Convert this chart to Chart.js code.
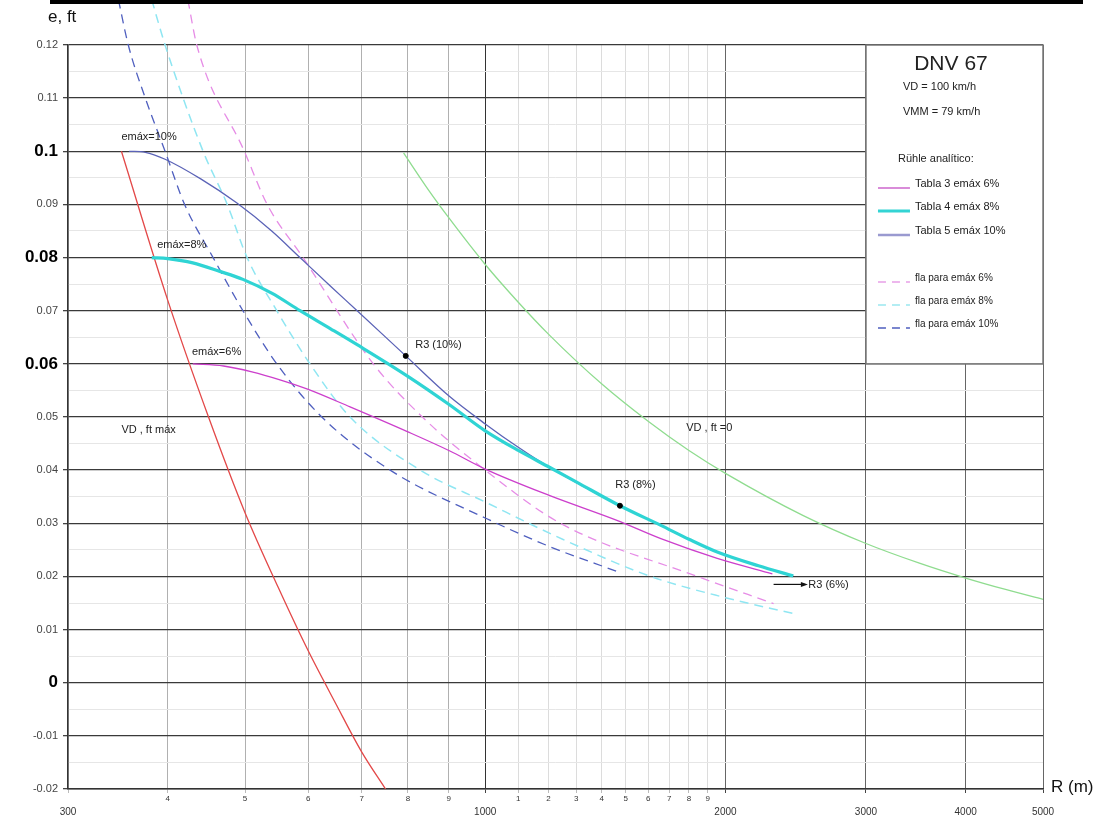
<!DOCTYPE html>
<html>
<head>
<meta charset="utf-8">
<script src="https://cdn.jsdelivr.net/npm/chart.js@4.4.0/dist/chart.umd.min.js"></script>
<style>
  html, body { margin: 0; padding: 0; background: #fff; }
  #wrap { width: 1115px; height: 816px; position: relative; }
</style>
</head>
<body>
<div id="wrap"><canvas id="myChart"></canvas></div>
<script>
// ejes
const xTicks = [300, 400, 500, 600, 700, 800, 900, 1000, 1100, 1200, 1300, 1400, 1500, 1600, 1700, 1800, 1900, 2000, 3000, 4000, 5000];
const xTickLabels = ["300", "4", "5", "6", "7", "8", "9", "1000", "1", "2", "3", "4", "5", "6", "7", "8", "9", "2000", "3000", "4000", "5000"];
const xMajor = [300, 1000, 2000, 3000, 4000, 5000];
const yTickLabels = ["-0.02", "-0.01", "0", "0.01", "0.02", "0.03", "0.04", "0.05", "0.06", "0.07", "0.08", "0.09", "0.1", "0.11", "0.12"];
const yBold = ["0", "0.06", "0.08", "0.1"];

// VD , ft máx
const rRed = [350, 400, 450, 500, 550, 600, 650, 700, 750];
const eRed = [0.100, 0.072, 0.050, 0.032, 0.018, 0.006, -0.004, -0.013, -0.020];
// VD , ft = 0
const rGreen = [790, 850, 900, 1000, 1100, 1200, 1400, 1600, 1800, 2000, 2500, 3000, 3500, 4000, 4500, 5000];
const eGreen = [0.0997, 0.0926, 0.0875, 0.0787, 0.0716, 0.0656, 0.0562, 0.0492, 0.0437, 0.0394, 0.0315, 0.0262, 0.0225, 0.0197, 0.0175, 0.0157];
// Rühle analítico
const rT3 = [430, 470, 510, 553, 600, 677, 800, 903, 1000, 1205, 1465, 1660, 1953, 2290];
const eT3 = [0.060, 0.0596, 0.0585, 0.0570, 0.0552, 0.0519, 0.0472, 0.0436, 0.0402, 0.0352, 0.0305, 0.0271, 0.0234, 0.0205];
const rT4 = [382, 400, 430, 465, 497, 540, 586, 640, 691, 799, 900, 1000, 1100, 1205, 1300, 1475, 1660, 1800, 1953, 2200, 2432];
const eT4 = [0.080, 0.0798, 0.079, 0.0774, 0.0759, 0.0733, 0.070, 0.0666, 0.0636, 0.0577, 0.0524, 0.0474, 0.0437, 0.0405, 0.0378, 0.0333, 0.0296, 0.0270, 0.0246, 0.0220, 0.0201];
const rT5 = [358, 375, 397, 440, 488, 540, 586, 640, 691, 795, 900, 1000, 1100, 1205, 1475, 1660, 1800, 1953, 2200, 2432];
const eT5 = [0.100, 0.0998, 0.0985, 0.0948, 0.0903, 0.0850, 0.080, 0.0746, 0.070, 0.0615, 0.054, 0.0487, 0.0443, 0.0405, 0.0333, 0.0296, 0.0270, 0.0246, 0.0220, 0.0201];
// fla para emáx
const rF6 = [424, 435, 499, 533, 591, 724, 834, 1000, 1242, 1844, 2298];
const eF6 = [0.1285, 0.120, 0.100, 0.090, 0.080, 0.060, 0.050, 0.040, 0.030, 0.020, 0.0149];
const rF8 = [382, 397, 443, 475, 503, 548, 603, 677, 829, 1000, 1250, 1612, 2000, 2436];
const eF8 = [0.1285, 0.120, 0.100, 0.090, 0.080, 0.070, 0.060, 0.050, 0.040, 0.034, 0.027, 0.020, 0.016, 0.013];
const rF10 = [347, 357, 375, 397, 420, 456, 497, 548, 624, 760, 1000, 1205, 1465];
const eF10 = [0.1285, 0.120, 0.110, 0.100, 0.090, 0.080, 0.070, 0.060, 0.050, 0.040, 0.031, 0.0256, 0.0209];
// puntos R3
const rR3 = [795, 1475];
const eR3 = [0.0615, 0.0333];

const FONT = "'Liberation Sans', Arial, sans-serif";

function pts(rs, es) {
  return rs.map((r, i) => ({ x: r, y: es[i] }));
}
function yLabel(v) {
  return String(Math.round(v * 100) / 100);
}
function isMajorY(v) {
  return Math.abs(v * 100 - Math.round(v * 100)) < 1e-6;
}

function line(label, rs, es, color, width, dash, order) {
  return {
    label: label,
    data: pts(rs, es),
    showLine: true,
    borderColor: color,
    backgroundColor: color,
    borderWidth: width,
    borderDash: dash || [],
    pointRadius: 0,
    cubicInterpolationMode: "monotone",
    clip: false,
    order: order,
  };
}

const textos = {
  id: "textos",
  afterDatasetsDraw(chart) {
    const ctx = chart.ctx;
    const xs = chart.scales.x;
    const ys = chart.scales.y;
    const X = (r) => xs.getPixelForValue(r);
    const Y = (e) => ys.getPixelForValue(e);
    ctx.save();
    ctx.textBaseline = "middle";
    ctx.textAlign = "left";
    ctx.fillStyle = "#222";
    ctx.font = "11px " + FONT;
    ctx.fillText("emáx=10%", X(350), Y(0.1026));
    ctx.fillText("emáx=8%", X(388), Y(0.0824));
    ctx.fillText("emáx=6%", X(429), Y(0.0622));
    ctx.fillText("R3 (10%)", X(817), Y(0.0636));
    ctx.fillText("R3 (8%)", X(1455), Y(0.0372));
    ctx.fillText("R3 (6%)", X(2540), Y(0.0184));
    ctx.fillText("VD , ft máx", X(350), Y(0.0476));
    ctx.fillText("VD , ft =0", X(1786), Y(0.048));

    // flecha R3 (6%)
    const ax0 = X(2298), ax1 = X(2515), ay = Y(0.0185);
    ctx.strokeStyle = "#111";
    ctx.lineWidth = 1.2;
    ctx.beginPath();
    ctx.moveTo(ax0, ay);
    ctx.lineTo(ax1, ay);
    ctx.stroke();
    ctx.beginPath();
    ctx.moveTo(ax1 + 3, ay);
    ctx.lineTo(ax1 - 4, ay - 2.5);
    ctx.lineTo(ax1 - 4, ay + 2.5);
    ctx.closePath();
    ctx.fillStyle = "#111";
    ctx.fill();

    // leyenda
    const bx0 = X(3000), bx1 = X(5000), by0 = Y(0.12), by1 = Y(0.06);
    ctx.fillStyle = "#fff";
    ctx.fillRect(bx0, by0, bx1 - bx0, by1 - by0);
    ctx.strokeStyle = "#777";
    ctx.lineWidth = 1.5;
    ctx.strokeRect(bx0, by0, bx1 - bx0, by1 - by0);

    ctx.fillStyle = "#222";
    ctx.textAlign = "center";
    ctx.font = "21px " + FONT;
    ctx.fillText("DNV 67", bx0 + 85, by0 + 19);
    ctx.textAlign = "left";
    ctx.font = "11px " + FONT;
    ctx.fillText("VD = 100 km/h", bx0 + 37, by0 + 42);
    ctx.fillText("VMM = 79 km/h", bx0 + 37, by0 + 67);
    ctx.fillText("Rühle analítico:", bx0 + 32, by0 + 114);

    const items = [
      ["Tabla 3 emáx 6%", "#cc66cc", 1.5, [], 139],
      ["Tabla 4 emáx 8%", "#33d4d4", 3, [], 162],
      ["Tabla 5 emáx 10%", "#9a9ad0", 2.5, [], 186],
      ["fla para emáx 6%", "#e8a0e8", 1.5, [8, 6], 233],
      ["fla para emáx 8%", "#9ae8f0", 1.5, [8, 6], 256],
      ["fla para emáx 10%", "#4f5fbf", 1.5, [8, 6], 279],
    ];
    items.forEach((it) => {
      const yy = by0 + it[4];
      ctx.strokeStyle = it[1];
      ctx.lineWidth = it[2];
      ctx.setLineDash(it[3]);
      ctx.beginPath();
      ctx.moveTo(bx0 + 12, yy + 4);
      ctx.lineTo(bx0 + 44, yy + 4);
      ctx.stroke();
      ctx.setLineDash([]);
      ctx.fillStyle = "#222";
      ctx.font = (it[0].startsWith("fla") ? "10px " : "11px ") + FONT;
      ctx.fillText(it[0], bx0 + 49, yy);
    });

    // títulos de ejes
    ctx.fillStyle = "#111";
    ctx.font = "17px " + FONT;
    ctx.fillText("e, ft", 48, 17);
    ctx.fillText("R (m)", bx1 + 8, ys.bottom - 2);

    // barra superior
    ctx.fillStyle = "#000";
    ctx.fillRect(50, 0, 1033, 4);
    ctx.restore();
  },
};

const data = {
  datasets: [
    {
      label: "R3",
      data: pts(rR3, eR3),
      pointRadius: 2.5,
      pointBackgroundColor: "#000",
      pointBorderColor: "#000",
      showLine: false,
      order: 0,
    },
    line("Tabla 4 emáx 8%", rT4, eT4, "#2fd4d4", 3.2, null, 1),
    line("Tabla 3 emáx 6%", rT3, eT3, "#cc3fcc", 1.3, null, 2),
    line("Tabla 5 emáx 10%", rT5, eT5, "#5b63b7", 1.3, null, 3),
    line("fla para emáx 6%", rF6, eF6, "#e68ce6", 1.3, [9, 6], 4),
    line("fla para emáx 8%", rF8, eF8, "#8fe6f2", 1.5, [9, 6], 5),
    line("fla para emáx 10%", rF10, eF10, "#4f5fbf", 1.3, [9, 6], 6),
    line("VD , ft máx", rRed, eRed, "#e34848", 1.3, null, 7),
    line("VD , ft =0", rGreen, eGreen, "#8fdc8f", 1.3, null, 8),
  ],
};

const config = {
  type: "scatter",
  data: data,
  options: {
    responsive: true,
    maintainAspectRatio: false,
    animation: false,
    layout: { padding: { top: 45, right: 72, left: 0, bottom: 0 } },
    plugins: { legend: { display: false }, tooltip: { enabled: false } },
    scales: {
      x: {
        type: "logarithmic",
        min: 300,
        max: 5000,
        afterBuildTicks: (s) => {
          s.ticks = xTicks.map((v) => ({ value: v }));
        },
        afterFit: (s) => {
          s.height = 27;
        },
        border: { color: "#333", width: 1.5 },
        grid: {
          tickLength: 4,
          color: (c) => {
            const v = c.tick ? c.tick.value : 0;
            if (v === 1000) return "#333";
            if (v >= 2000) return "#666";
            if (v > 1000) return "#dcdcdc";
            return "#b0b0b0";
          },
          tickColor: (c) => {
            const v = c.tick ? c.tick.value : 0;
            return v >= 2000 || v === 1000 ? "#444" : "#bbb";
          },
        },
        ticks: {
          autoSkip: false,
          maxRotation: 0,
          padding: 1,
          color: "#333",
          font: (c) => {
            const v = c.tick ? c.tick.value : 0;
            return xMajor.includes(v) ? { family: FONT, size: 10 } : { family: FONT, size: 8 };
          },
          callback: (value, i) => {
            const lab = xTickLabels[xTicks.indexOf(value)];
            if (lab === undefined) return "";
            return xMajor.includes(value) ? ["", lab] : lab;
          },
        },
      },
      y: {
        min: -0.02,
        max: 0.12,
        afterBuildTicks: (s) => {
          const t = [];
          yTickLabels.forEach((l, i) => {
            t.push({ value: parseFloat(l) });
            if (i < yTickLabels.length - 1) t.push({ value: parseFloat(l) + 0.005 });
          });
          s.ticks = t;
        },
        afterFit: (s) => {
          s.width = 68;
        },
        border: { color: "#333", width: 1.5 },
        grid: {
          tickLength: 5,
          color: (c) => (c.tick && isMajorY(c.tick.value) ? "#3a3a3a" : "#e6e6e6"),
          lineWidth: (c) => (c.tick && isMajorY(c.tick.value) ? 1.3 : 1),
          tickColor: (c) => (c.tick && isMajorY(c.tick.value) ? "#444" : "rgba(0,0,0,0)"),
        },
        ticks: {
          autoSkip: false,
          padding: 5,
          color: (c) => (c.tick && yBold.includes(yLabel(c.tick.value)) ? "#000" : "#444"),
          font: (c) => {
            const b = c.tick && yBold.includes(yLabel(c.tick.value));
            return b ? { family: FONT, size: 17, weight: "bold" } : { family: FONT, size: 11 };
          },
          callback: (value) => (isMajorY(value) ? yLabel(value) : ""),
        },
      },
    },
  },
  plugins: [textos],
};

const myChart = new Chart(document.getElementById("myChart"), config);
</script>
</body>
</html>
